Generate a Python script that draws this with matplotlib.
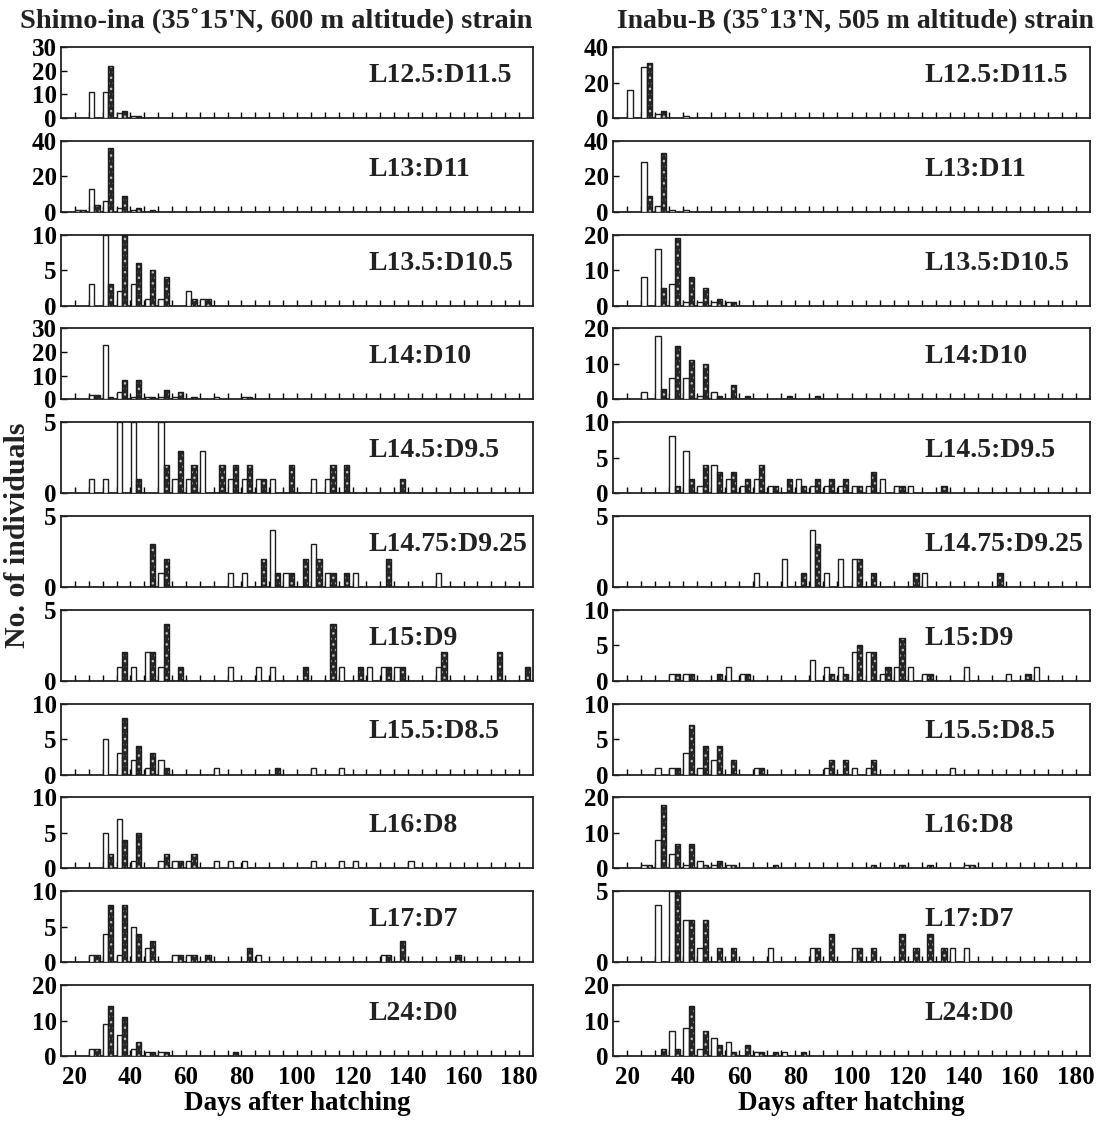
import matplotlib
matplotlib.use("Agg")
import matplotlib.pyplot as plt
import numpy as np

plt.rcParams["font.family"] = ["Liberation Serif", "DejaVu Serif"]
plt.rcParams["font.weight"] = "bold"

# Emergence counts per 5-day class: (day class, open bar, dark bar)
# Shimo-ina strain
SHIMO_L12_5 = [(25, 11, 0), (30, 11, 22), (35, 2, 3), (40, 1, 1)]
SHIMO_L13 = [(20, 1, 1), (25, 13, 4), (30, 6, 36), (35, 2, 9), (40, 1, 2), (45, 0, 1)]
SHIMO_L13_5 = [(25, 3, 0), (30, 10, 3), (35, 2, 10), (40, 3, 6), (45, 1, 5), (50, 1, 4),
               (60, 2, 1), (65, 1, 1)]
SHIMO_L14 = [(25, 2, 2), (30, 23, 1), (35, 3, 8), (40, 1, 8), (45, 1, 1), (50, 1, 4), (55, 1, 3),
             (60, 0, 1), (70, 1, 0), (80, 1, 1)]
SHIMO_L14_5 = [(25, 1, 0), (30, 1, 0), (35, 5, 0), (40, 5, 1), (50, 5, 2), (55, 1, 3), (60, 1, 2),
               (65, 3, 0), (70, 0, 2), (75, 1, 2), (80, 1, 2), (85, 1, 1), (90, 1, 0), (95, 0, 2),
               (105, 1, 0), (110, 1, 2), (115, 0, 2), (135, 0, 1)]
SHIMO_L14_75 = [(45, 0, 3), (50, 1, 2), (75, 1, 0), (80, 1, 0), (85, 0, 2), (90, 4, 1), (95, 1, 1),
                (100, 0, 2), (105, 3, 2), (110, 1, 1), (115, 0, 1), (120, 1, 0), (130, 0, 2),
                (150, 1, 0)]
SHIMO_L15 = [(35, 1, 2), (40, 1, 0), (45, 2, 2), (50, 1, 4), (55, 0, 1), (75, 1, 0), (85, 1, 0),
             (90, 1, 0), (100, 0, 1), (110, 0, 4), (115, 1, 0), (120, 0, 1), (125, 1, 0),
             (130, 1, 1), (135, 1, 1), (150, 1, 2), (170, 0, 2), (180, 0, 1)]
SHIMO_L15_5 = [(30, 5, 0), (35, 3, 8), (40, 2, 4), (45, 1, 3), (50, 2, 1), (70, 1, 0), (90, 0, 1),
               (105, 1, 0), (115, 1, 0)]
SHIMO_L16 = [(30, 5, 2), (35, 7, 4), (40, 1, 5), (50, 1, 2), (55, 1, 1), (60, 1, 2), (70, 1, 0),
             (75, 1, 0), (80, 1, 0), (105, 1, 0), (115, 1, 0), (120, 1, 0), (140, 1, 0)]
SHIMO_L17 = [(25, 1, 1), (30, 4, 8), (35, 1, 8), (40, 5, 4), (45, 2, 3), (55, 1, 1), (60, 1, 1),
             (65, 0, 1), (80, 0, 2), (85, 1, 0), (130, 1, 1), (135, 0, 3), (155, 0, 1)]
SHIMO_L24 = [(25, 2, 2), (30, 9, 14), (35, 6, 11), (40, 2, 4), (45, 1, 1), (50, 1, 1), (75, 0, 1)]

# Inabu-B strain
INABU_L12_5 = [(20, 16, 0), (25, 29, 31), (30, 2, 4), (40, 1, 0)]
INABU_L13 = [(25, 28, 9), (30, 3, 33), (35, 1, 0), (40, 1, 0)]
INABU_L13_5 = [(25, 8, 0), (30, 16, 5), (35, 6, 19), (40, 1, 8), (45, 1, 5), (50, 1, 2), (55, 1, 1)]
INABU_L14 = [(25, 2, 0), (30, 18, 3), (35, 6, 15), (40, 6, 11), (45, 1, 10), (50, 2, 1), (55, 0, 4),
             (60, 0, 1), (75, 0, 1), (85, 0, 1)]
INABU_L14_5 = [(35, 8, 1), (40, 6, 2), (45, 1, 4), (50, 4, 3), (55, 2, 3), (60, 1, 2), (65, 2, 4),
               (70, 1, 1), (75, 0, 2), (80, 2, 1), (85, 1, 2), (90, 1, 2), (95, 1, 2), (100, 1, 1),
               (105, 1, 3), (110, 2, 0), (115, 1, 1), (120, 1, 0), (130, 0, 1)]
INABU_L14_75 = [(65, 1, 0), (75, 2, 0), (80, 0, 1), (85, 4, 3), (90, 1, 0), (95, 2, 0), (100, 2, 2),
                (105, 0, 1), (120, 0, 1), (125, 1, 0), (150, 0, 1)]
INABU_L15 = [(35, 1, 1), (40, 1, 1), (50, 0, 1), (55, 2, 0), (60, 1, 1), (85, 3, 0), (90, 2, 1),
             (95, 2, 1), (100, 4, 5), (105, 4, 4), (110, 1, 2), (115, 2, 6), (120, 2, 0),
             (125, 1, 1), (140, 2, 0), (155, 1, 0), (160, 0, 1), (165, 2, 0)]
INABU_L15_5 = [(30, 1, 0), (35, 1, 1), (40, 3, 7), (45, 1, 4), (50, 2, 4), (55, 0, 2), (65, 1, 1),
               (90, 1, 2), (95, 0, 2), (100, 1, 0), (105, 1, 2), (135, 1, 0)]
INABU_L16 = [(25, 1, 1), (30, 8, 18), (35, 4, 7), (40, 1, 7), (45, 2, 1), (50, 1, 2), (55, 1, 1),
             (70, 0, 1), (105, 0, 1), (115, 0, 1), (125, 0, 1), (140, 1, 1)]
INABU_L17 = [(30, 4, 0), (35, 5, 5), (40, 3, 3), (45, 1, 3), (50, 0, 1), (55, 0, 1), (70, 1, 0),
             (85, 1, 1), (90, 0, 2), (100, 1, 1), (105, 0, 1), (115, 0, 2), (120, 0, 1),
             (125, 0, 2), (130, 0, 1), (135, 1, 0), (140, 1, 0)]
INABU_L24 = [(30, 0, 2), (35, 7, 2), (40, 8, 14), (45, 2, 7), (50, 5, 3), (55, 4, 1), (60, 0, 3),
             (65, 1, 1), (70, 0, 1), (75, 1, 0), (80, 0, 1)]

PHOTOPERIODS = ["L12.5:D11.5", "L13:D11", "L13.5:D10.5", "L14:D10", "L14.5:D9.5",
                "L14.75:D9.25", "L15:D9", "L15.5:D8.5", "L16:D8", "L17:D7", "L24:D0"]

SHIMO_PANELS = [SHIMO_L12_5, SHIMO_L13, SHIMO_L13_5, SHIMO_L14, SHIMO_L14_5, SHIMO_L14_75,
                SHIMO_L15, SHIMO_L15_5, SHIMO_L16, SHIMO_L17, SHIMO_L24]
INABU_PANELS = [INABU_L12_5, INABU_L13, INABU_L13_5, INABU_L14, INABU_L14_5, INABU_L14_75,
                INABU_L15, INABU_L15_5, INABU_L16, INABU_L17, INABU_L24]

SHIMO_YTICKS = [[0, 10, 20, 30], [0, 20, 40], [0, 5, 10], [0, 10, 20, 30], [0, 5], [0, 5], [0, 5],
                [0, 5, 10], [0, 5, 10], [0, 5, 10], [0, 10, 20]]
INABU_YTICKS = [[0, 20, 40], [0, 20, 40], [0, 10, 20], [0, 10, 20], [0, 5, 10], [0, 5],
                [0, 5, 10], [0, 5, 10], [0, 10, 20], [0, 5], [0, 10, 20]]

SHIMO_TITLE = "Shimo-ina (35\u02da15'N, 600 m altitude) strain"
INABU_TITLE = "Inabu-B (35\u02da13'N, 505 m altitude) strain"

BAR_W = 1.9
FIG_W, FIG_H = 1107, 1128
ROW_TOP0, ROW_PITCH, ROW_H = 47, 93.8, 71


def draw_panel(ax, counts, yticks, label, show_x):
    days = np.array([c[0] for c in counts], dtype=float)
    n_open = np.array([c[1] for c in counts], dtype=float)
    n_dark = np.array([c[2] for c in counts], dtype=float)

    ax.bar(days + 0.1, n_open, width=BAR_W, align="edge", facecolor="white",
           edgecolor="#1c1c1c", linewidth=1.0, zorder=3)
    # stippled dark bars: dotted fill, then outline
    ax.bar(days + 0.1 + BAR_W, n_dark, width=BAR_W, align="edge", facecolor="#262626",
           edgecolor="#b9bdb0", hatch="...", linewidth=0, zorder=3)
    ax.bar(days + 0.1 + BAR_W, n_dark, width=BAR_W, align="edge", fill=False,
           edgecolor="#1c1c1c", linewidth=1.0, zorder=4)

    ax.set_xlim(15, 185)
    ax.set_ylim(0, yticks[-1])
    ax.set_yticks(yticks)
    ax.set_xticks(range(20, 181, 20))
    ax.set_xticks(range(20, 181, 5), minor=True)
    ax.tick_params(axis="x", which="both", direction="in", length=4, width=1.0, top=False,
                   labelsize=18, pad=7, labelbottom=show_x)
    ax.tick_params(axis="y", direction="in", length=4, width=1.0, labelsize=18, pad=3)
    for sp in ax.spines.values():
        sp.set_linewidth(1.3)
        sp.set_color("#222222")
    ax.text(0.652, 0.6, label, transform=ax.transAxes, ha="left", va="center",
            fontsize=20, fontweight="bold", color="#222222")


fig = plt.figure(figsize=(FIG_W / 100, FIG_H / 100), dpi=100)

columns = [
    (61, 472, SHIMO_PANELS, SHIMO_YTICKS),
    (613, 477, INABU_PANELS, INABU_YTICKS),
]
n_rows = len(PHOTOPERIODS)
for left_px, width_px, panels, yticks_list in columns:
    for i in range(n_rows):
        top_px = ROW_TOP0 + i * ROW_PITCH
        ax = fig.add_axes([left_px / FIG_W, 1 - (top_px + ROW_H) / FIG_H,
                           width_px / FIG_W, ROW_H / FIG_H])
        draw_panel(ax, panels[i], yticks_list[i], PHOTOPERIODS[i], i == n_rows - 1)
        if i == n_rows - 1:
            ax.set_xlabel("Days after hatching", fontsize=19.5, fontweight="bold", labelpad=2)

fig.text(276 / FIG_W, 1 - 20 / FIG_H, SHIMO_TITLE, ha="center", va="center",
         fontsize=20.5, fontweight="bold", color="#222222")
fig.text(855 / FIG_W, 1 - 20 / FIG_H, INABU_TITLE, ha="center", va="center",
         fontsize=20, fontweight="bold", color="#222222")
fig.text(18 / FIG_W, 1 - 535 / FIG_H, "No. of individuals", rotation=90, ha="center",
         va="center", fontsize=21.5, fontweight="bold", color="#222222")

fig.savefig("out.png", dpi=100)
